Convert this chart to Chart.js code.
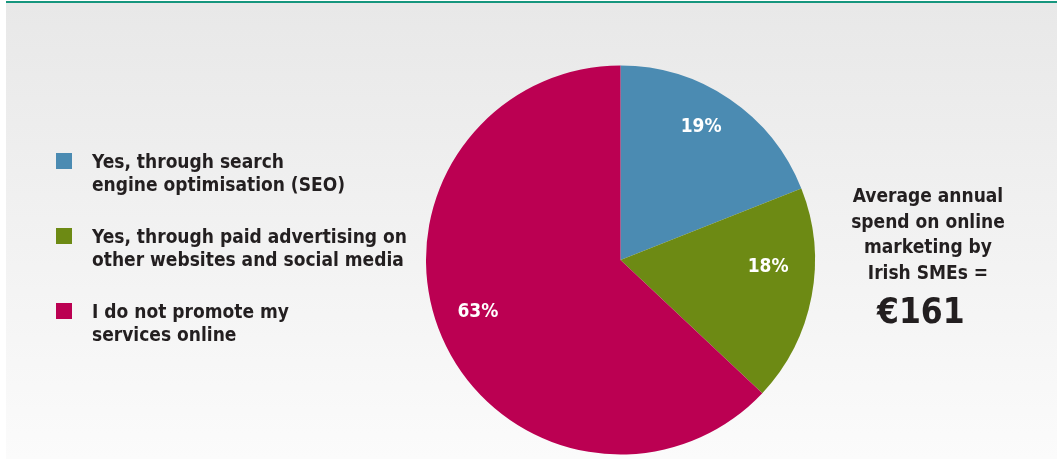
<!DOCTYPE html>
<html>
<head>
<meta charset="utf-8">
<script src="https://cdn.jsdelivr.net/npm/chart.js@4.4.1/dist/chart.umd.min.js"></script>
<style>
  html, body { margin: 0; padding: 0; background: #fff; }
  #wrap { position: relative; width: 1057px; height: 459px; overflow: hidden; }
  #panel {
    position: absolute; left: 6px; top: 1px; right: 0; bottom: 0;
    border-top: 2px solid #16967e;
    background: linear-gradient(#e8e8e8, #fbfbfb);
  }
  #pie { position: absolute; left: 0; top: 0; }
  .txt { font-family: "DejaVu Sans Condensed", "DejaVu Sans", sans-serif; font-weight: bold; color: #231f20; }
  #legend { position: absolute; left: 56px; top: 0; }
  .item { position: absolute; left: 0; width: 340px; }
  .swatch { position: absolute; left: 0; width: 16px; height: 16px; }
  .lab { position: absolute; left: 36px; font-size: 19px; line-height: 23px; white-space: nowrap; }
  #note { position: absolute; left: 838px; top: 183px; width: 180px; text-align: center; font-size: 19px; line-height: 25.5px; }
  #amount { position: absolute; left: 877px; top: 292px; font-size: 35px; line-height: 38px; }
</style>
</head>
<body>
<div id="wrap">
  <div id="panel"></div>
  <canvas id="pie" width="1057" height="459"></canvas>
  <div id="legend" class="txt"></div>
  <div id="note" class="txt">Average annual<br>spend on online<br>marketing by<br>Irish SMEs =</div>
  <div id="amount" class="txt">€161</div>
</div>
<script>
// Do Irish SMEs promote their services online?
const labels = [
  ['Yes, through search', 'engine optimisation (SEO)'],
  ['Yes, through paid advertising on', 'other websites and social media'],
  ['I do not promote my', 'services online']
];
const shares = [19, 18, 63];
const colours = ['#4b8bb2', '#6d8a14', '#bb0052'];

// legend, two lines per entry
const legend = document.getElementById('legend');
labels.forEach((lines, i) => {
  const item = document.createElement('div');
  item.className = 'item';
  item.style.top = (153 + i * 75) + 'px';
  item.innerHTML = '<div class="swatch" style="top:0;background:' + colours[i] + '"></div>' +
    '<div class="lab" style="top:-3px">' + lines.join('<br>') + '</div>';
  legend.appendChild(item);
});

// percentage labels inside the slices
const sliceLabels = {
  id: 'sliceLabels',
  afterDatasetsDraw(chart, args, opts) {
    const ctx = chart.ctx;
    const meta = chart.getDatasetMeta(0);
    ctx.save();
    ctx.font = 'bold 19px "DejaVu Sans Condensed", "DejaVu Sans", sans-serif';
    ctx.fillStyle = '#fff';
    ctx.textAlign = 'center';
    ctx.textBaseline = 'middle';
    meta.data.forEach((arc, i) => {
      const p = arc.getProps(['x', 'y', 'startAngle', 'endAngle', 'outerRadius']);
      const a = (p.startAngle + p.endAngle) / 2 + opts.shift[i] * Math.PI / 180;
      const r = p.outerRadius * opts.dist[i];
      ctx.fillText(shares[i] + '%', p.x + Math.cos(a) * r, p.y + Math.sin(a) * r);
    });
    ctx.restore();
  }
};

new Chart(document.getElementById('pie'), {
  type: 'pie',
  data: {
    labels: labels.map(l => l.join(' ')),
    datasets: [{
      data: shares,
      backgroundColor: colours,
      borderWidth: 0
    }]
  },
  options: {
    responsive: false,
    animation: false,
    layout: { padding: { left: 426, right: 242, top: 65.5, bottom: 4.5 } },
    plugins: {
      legend: { display: false },
      tooltip: { enabled: false },
      sliceLabels: { shift: [-3, -8, 3.5], dist: [0.8, 0.76, 0.78] }
    }
  },
  plugins: [sliceLabels]
});
</script>
</body>
</html>
